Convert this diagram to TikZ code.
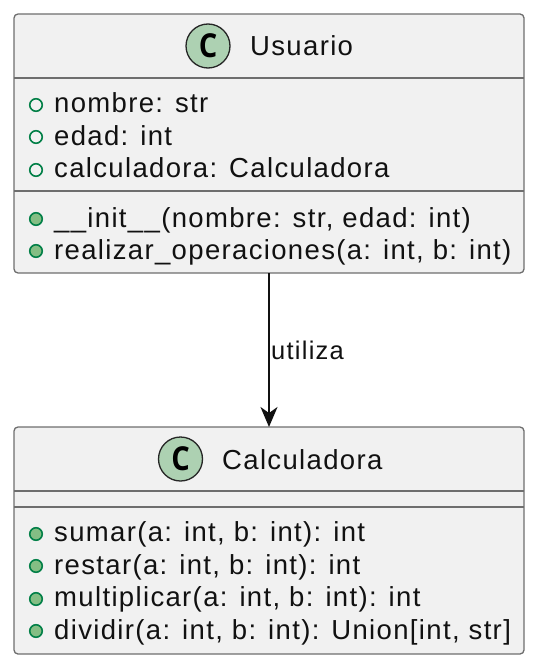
\documentclass[tikz,border=0pt]{standalone}
\usepackage{fontspec}
\setmainfont{Liberation Sans}[LetterSpace=4.9]
\newfontfamily\cfont{Open Sans}[FakeStretch=0.88]
\usetikzlibrary{arrows.meta,positioning}
\definecolor{boxbg}{HTML}{F1F1F1}
\definecolor{boxln}{HTML}{6E6E6E}
\definecolor{spotc}{HTML}{ADD1B2}
\definecolor{attr}{HTML}{038048}
\definecolor{meth}{HTML}{84BE84}
\definecolor{txt}{HTML}{111111}
\tikzset{
 classbox/.style={draw=boxln,fill=boxbg,line width=1.3pt,rounded corners=4pt,minimum width=510pt,inner sep=0pt,outer sep=0pt},
 member/.style={anchor=base west,inner sep=0pt,text=txt,font=\fontsize{27.5}{32}\selectfont},
 title/.style={anchor=base west,inner sep=0pt,text=txt,font=\fontsize{27.5}{32}\selectfont},
 edgelabel/.style={anchor=base west,inner sep=0pt,text=txt,font=\fontsize{25.5}{30}\selectfont},
 sep/.style={draw=boxln,line width=1.3pt},
 spot/.style={circle,draw=black!85,fill=spotc,line width=1.3pt,minimum size=44pt,inner sep=0pt},
 attrdot/.style={circle,draw=attr,line width=1.6pt,minimum size=12.5pt,inner sep=0pt},
 methdot/.style={circle,draw=attr,fill=meth,line width=1.6pt,minimum size=12.5pt,inner sep=0pt},
 link/.style={draw=txt,line width=1.7pt,-{Stealth[length=20pt,width=17pt,inset=6pt]}},
}
\begin{document}
\begin{tikzpicture}[x=1pt,y=-1pt]
\useasboundingbox (0,0) rectangle (538,666);
\node[classbox,minimum height=259pt] (usuario) at (269,143.5) {};
\node[classbox,minimum height=227pt] (calc) at (269,540.5) {};
\draw[sep] (14,78) -- (524,78);
\draw[sep] (14,191) -- (524,191);
\draw[sep] (14,491) -- (524,491);
\draw[sep] (14,507) -- (524,507);
\node[spot] (s1) at (208,46) {\fontsize{33}{33}\selectfont\cfont\bfseries C};
\node[title] (t1) at (250,56) {Usuario};
\node[spot] (s2) at (180.5,459) {\fontsize{33}{33}\selectfont\cfont\bfseries C};
\node[title] (t2) at (222,469) {Calculadora};
\node[attrdot] (a1) at (36,105) {};
\node[member] (m1) at (54,113) {nombre: str};
\node[attrdot] (a2) at (36,137) {};
\node[member] (m2) at (54,145) {edad: int};
\node[attrdot] (a3) at (36,170) {};
\node[member] (m3) at (54,177) {calculadora: Calculadora};
\node[methdot] (b1) at (36,219) {};
\node[member] (m4) at (54,227) {\_\_init\_\_(nombre: str, edad: int)};
\node[methdot] (b2) at (36,251) {};
\node[member] (m5) at (54,259) {realizar\_operaciones(a: int, b: int)};
\node[methdot] (c1) at (36,534) {};
\node[member] (n1) at (54,541) {sumar(a: int, b: int): int};
\node[methdot] (c2) at (36,566) {};
\node[member] (n2) at (54,574) {restar(a: int, b: int): int};
\node[methdot] (c3) at (36,599) {};
\node[member] (n3) at (54,606) {multiplicar(a: int, b: int): int};
\node[methdot] (c4) at (36,631) {};
\node[member] (n4) at (54,639) {dividir(a: int, b: int): Union[int, str]};
\draw[link] (usuario.south) -- (calc.north);
\node[edgelabel] (lab) at (271,359) {utiliza};
\end{tikzpicture}
\end{document}
